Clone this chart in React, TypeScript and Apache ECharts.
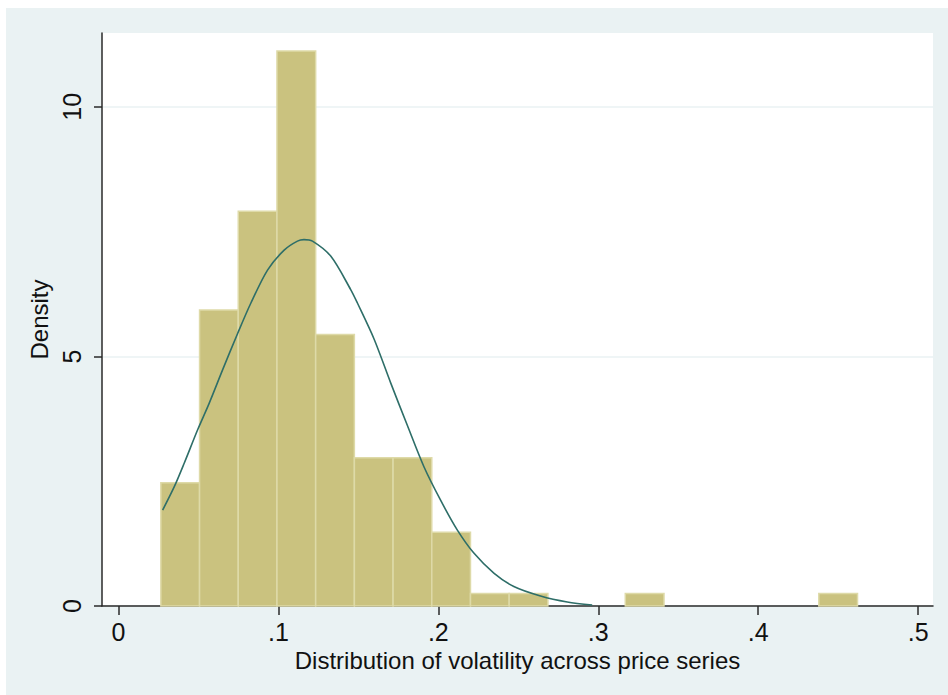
import React, { useEffect, useRef } from "react";
import * as echarts from "echarts";

// Histogram bin edges (volatility)
const binEdges = [
  0.0265, 0.0507, 0.0749, 0.0991, 0.1233, 0.1475, 0.1717, 0.1959, 0.2201,
  0.2443, 0.2685, 0.2927, 0.3169, 0.3411, 0.3653, 0.3895, 0.4137, 0.4379, 0.4621,
];
// Density of each bin
const binDensity = [
  2.47, 5.93, 7.91, 11.12, 5.44, 2.97, 2.97, 1.48, 0.25, 0.25, 0, 0, 0.25, 0, 0, 0, 0, 0.25,
];

// Normal density overlay
const curveX = [
  0.0276, 0.0349, 0.0411, 0.0495, 0.0567, 0.0651, 0.0745, 0.0828, 0.0932, 0.1036,
  0.1119, 0.1160, 0.1213, 0.1327, 0.1452, 0.1494, 0.1598, 0.1702, 0.1806, 0.191,
  0.2014, 0.2119, 0.2222, 0.2347, 0.2472, 0.2639, 0.2806, 0.2962,
];
const curveY = [
  1.92, 2.39, 2.86, 3.53, 4.06, 4.73, 5.46, 6.07, 6.73, 7.13,
  7.31, 7.34, 7.31, 7.01, 6.34, 6.07, 5.35, 4.47, 3.62, 2.79,
  2.12, 1.52, 1.06, 0.66, 0.39, 0.2, 0.08, 0.02,
];

const xTicks = [0, 0.1, 0.2, 0.3, 0.4, 0.5];
const xTickLabels = ["0", ".1", ".2", ".3", ".4", ".5"];
const yTicks = [0, 5, 10];

const xTitle = "Distribution of volatility across price series";
const yTitle = "Density";

export default function App() {
  const ref = useRef<HTMLDivElement>(null);

  useEffect(() => {
    if (!ref.current) return;
    const chart = echarts.init(ref.current, undefined, { renderer: "svg" });

    const bars = binDensity.map((d, i) => [binEdges[i], binEdges[i + 1], d]);
    const curve = curveX.map((x, i) => [x, curveY[i]]);
    const font = "'Liberation Sans', Arial, sans-serif";

    chart.setOption({
      animation: false,
      backgroundColor: "#ffffff",
      graphic: [
        {
          type: "rect",
          z: -10,
          silent: true,
          shape: { x: 6, y: 8, width: 942, height: 687 },
          style: { fill: "#eaf2f3" },
        },
      ],
      grid: {
        left: 102,
        top: 33,
        right: 15,
        bottom: 89,
        show: true,
        backgroundColor: "#ffffff",
        borderWidth: 0,
        z: 0,
      },
      xAxis: {
        type: "value",
        min: -0.0103,
        max: 0.5093,
        name: xTitle,
        nameLocation: "middle",
        nameGap: 38,
        nameTextStyle: { fontFamily: font, fontSize: 24, color: "#111" },
        axisLine: { show: true, onZero: false, lineStyle: { color: "#2a2a2a", width: 1.5 } },
        axisTick: {
          show: true,
          length: 9,
          customValues: xTicks,
          lineStyle: { color: "#2a2a2a", width: 1.5 },
        },
        axisLabel: {
          customValues: xTicks,
          margin: 13,
          fontFamily: font,
          fontSize: 25,
          color: "#111",
          formatter: (v: number) => {
            const i = xTicks.findIndex((t) => Math.abs(t - v) < 1e-9);
            return i >= 0 ? xTickLabels[i] : "";
          },
        },
        splitLine: { show: false },
      },
      yAxis: {
        type: "value",
        min: 0,
        max: 11.48,
        name: yTitle,
        nameLocation: "middle",
        nameGap: 44,
        nameRotate: 90,
        nameTextStyle: { fontFamily: font, fontSize: 24, color: "#111" },
        axisLine: { show: true, onZero: false, lineStyle: { color: "#2a2a2a", width: 1.5 } },
        axisTick: {
          show: true,
          length: 8,
          customValues: yTicks,
          lineStyle: { color: "#2a2a2a", width: 1.5 },
        },
        axisLabel: {
          customValues: yTicks,
          rotate: 90,
          margin: 18,
          fontFamily: font,
          fontSize: 25,
          color: "#111",
        },
        splitLine: { show: true, lineStyle: { color: "#eaf2f3", width: 1.5 } },
      },
      series: [
        {
          type: "custom",
          z: 2,
          data: bars,
          renderItem: (params: any, api: any) => {
            const x0 = api.value(0);
            const x1 = api.value(1);
            const h = api.value(2);
            if (!h) return null;
            const p0 = api.coord([x0, h]);
            const p1 = api.coord([x1, 0]);
            return {
              type: "rect",
              shape: { x: p0[0], y: p0[1], width: p1[0] - p0[0], height: p1[1] - p0[1] },
              style: { fill: "#cac27f", stroke: "#dedaa8", lineWidth: 1.5 },
            };
          },
        },
        {
          type: "line",
          z: 3,
          data: curve,
          smooth: 0.3,
          symbol: "none",
          lineStyle: { color: "#2e6e68", width: 1.6 },
        },
      ],
    });

    return () => chart.dispose();
  }, []);

  return (
    <div
      ref={ref}
      style={{ position: "fixed", left: 0, top: 0, width: 948, height: 695 }}
    />
  );
}
